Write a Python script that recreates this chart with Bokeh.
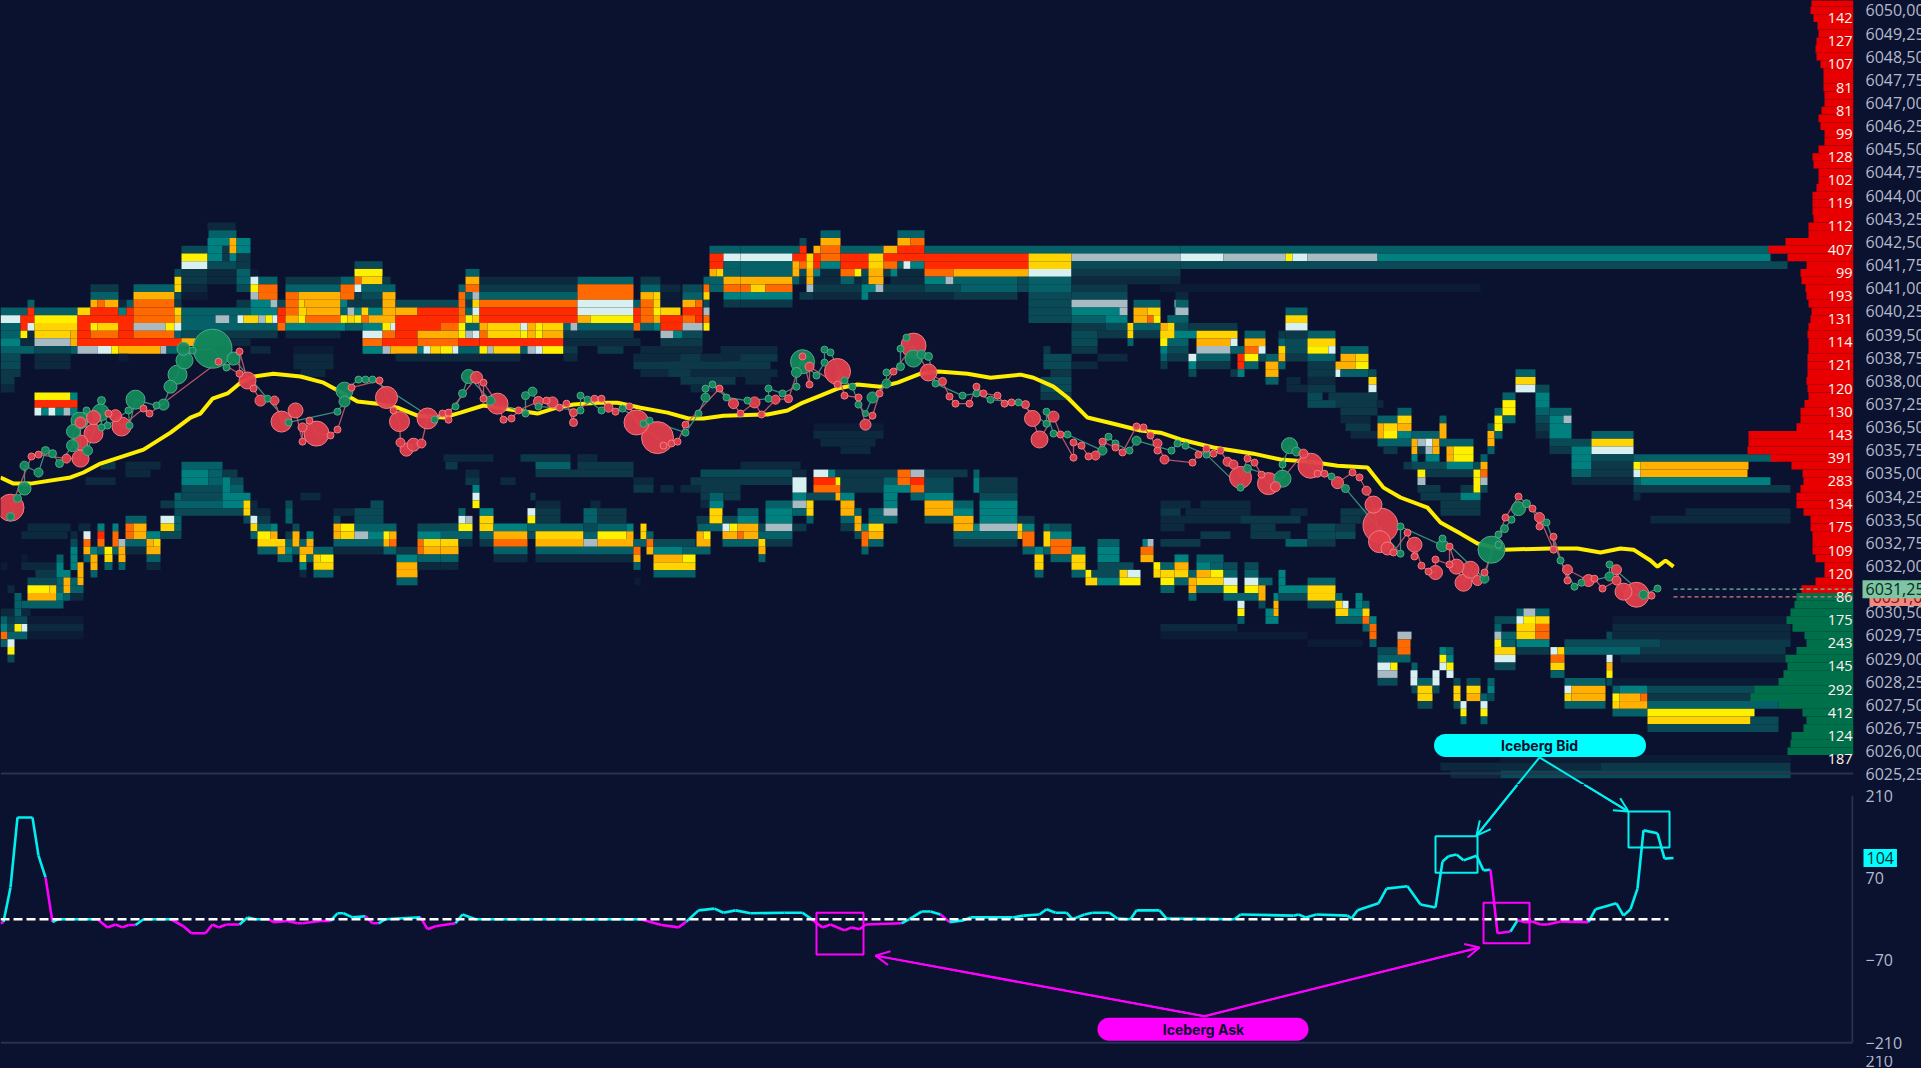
from bokeh.plotting import figure
from bokeh.layouts import column
from bokeh.models import Range1d, FixedTicker, CustomJSTickFormatter, Label, Arrow, OpenHead
from bokeh.core.properties import value
from bokeh.embed import file_html
from bokeh.resources import INLINE

BG = "#0b1230"
CYAN = "#00f0f0"
MAGENTA = "#ff00ff"
LEVELS = ["#0c1c36", "#0c293e", "#0c3848", "#0a4a56", "#056068", "#018080", "#a8bac2",
          "#d8f0f0", "#fff000", "#ffd400", "#ffb000", "#ff6a00", "#ff2a00"]

# heatmap: (price, [(time_from, time_to, level), ...])
heat_faint = [
 (6039.0,[(720,777,2),(293,333,1)]),
 (6038.75,[(720,777,3),(293,333,2),(633,740,2)]),
 (6038.5,[(730,770,3),(293,333,2),(633,740,3)]),
 (6038.25,[(740,777,2),(300,325,2),(640,740,2)]),
 (6038.0,[(745,770,2),(1040,1071,4),(680,735,3)]),
 (6037.75,[(1040,1071,4),(690,720,2)]),
 (6037.5,[(1333,1377,3),(1040,1071,3)]),
 (6037.25,[(1333,1377,3)]),
 (6037.0,[(1340,1377,3)]),
 (6036.75,[(1340,1370,2)]),
 (6036.5,[(813,883,1),(1345,1370,3)]),
 (6036.25,[(813,883,2),(1350,1377,2)]),
 (6036.0,[(820,875,2)]),
 (6035.75,[(840,870,2)]),
 (6034.0,[(1200,1250,2)]),
 (6033.75,[(1185,1250,2),(1340,1375,3)]),
 (6033.5,[(1160,1250,2),(1240,1300,3),(1340,1370,3)]),
]
heat_upper_left = [
 (6043.0,[(207,235,2)]),
 (6042.75,[(208,236,5)]),
 (6042.5,[(207,229,6),(229,236,11),(236,250,6)]),
 (6042.25,[(181,207,4),(207,222,6),(222,229,3),(229,236,11),(236,250,6)]),
 (6042.0,[(181,207,9),(207,222,6),(222,229,3),(229,236,6),(236,250,3)]),
 (6041.75,[(181,207,8),(207,236,4),(236,250,3),(354,382,4)]),
 (6041.5,[(174,181,4),(181,207,3),(207,236,2),(236,250,5),(250,258,1),(354,382,9),(465,479,5)]),
 (6041.25,[(174,181,10),(181,207,3),(207,236,2),(236,250,5),(250,258,8),(258,277,5),(285,340,3),(340,354,5),(354,361,12),(361,382,10),(382,390,3),(465,479,11)]),
 (6041.0,[(90,118,3),(133,174,5),(174,181,10),(181,207,2),(236,250,4),(250,258,9),(258,277,12),(285,340,5),(340,354,12),(354,361,8),(361,395,5),(458,465,5),(465,479,12)]),
 (6040.75,[(90,118,5),(133,174,11),(174,181,4),(181,207,1),(250,258,7),(258,277,12),(285,298,12),(298,340,11),(340,354,12),(354,361,3),(361,382,4),(382,395,11),(458,465,12),(465,472,5),(472,479,7)]),
 (6040.5,[(27,34,5),(90,97,11),(97,104,12),(104,118,11),(118,126,2),(126,133,5),(133,174,12),(174,181,3),(236,250,3),(250,270,6),(270,277,7),(277,285,4),(285,298,12),(298,304,10),(304,340,11),(340,347,6),(347,382,3),(382,395,11),(395,458,4),(458,465,12),(465,472,3),(472,479,10)]),
 (6040.25,[(0,27,5),(27,34,13),(34,77,5),(77,90,10),(90,118,13),(118,126,6),(126,133,13),(133,174,12),(174,181,10),(181,250,5),(250,277,6),(277,285,13),(285,298,12),(298,306,10),(306,340,11),(340,347,5),(347,354,7),(354,361,6),(361,368,10),(368,382,6),(382,395,11),(395,417,11),(417,458,13),(458,465,12),(465,472,5),(472,479,8)]),
 (6040.0,[(0,20,8),(20,34,13),(34,77,9),(77,133,13),(133,174,12),(174,181,11),(181,215,5),(215,229,7),(229,237,5),(237,243,8),(243,258,10),(258,265,7),(265,272,9),(272,277,8),(277,285,13),(285,298,11),(298,305,9),(305,340,12),(340,347,9),(347,354,10),(354,361,9),(361,368,12),(368,395,11),(395,458,13),(458,465,12),(465,472,9),(472,479,10)]),
 (6039.75,[(0,20,5),(20,27,13),(27,34,8),(34,77,10),(77,90,13),(90,97,9),(97,118,10),(118,133,13),(133,165,7),(165,174,9),(174,181,8),(181,277,5),(277,285,12),(285,345,6),(345,362,5),(362,382,6),(382,390,9),(390,395,8),(395,440,13),(440,458,12),(458,465,9),(465,479,5)]),
 (6039.5,[(0,20,5),(20,27,9),(27,34,2),(34,70,10),(70,77,11),(77,90,13),(90,118,12),(118,133,13),(133,174,12),(174,181,5),(181,217,4),(217,277,3),(285,340,2),(362,382,8),(382,395,12),(395,417,13),(417,458,11),(458,465,9),(465,472,7),(472,479,8)]),
 (6039.25,[(0,20,6),(20,34,2),(34,70,7),(70,77,11),(77,181,13),(181,195,11),(195,250,2),(362,382,12),(382,417,13),(417,458,12),(458,479,13)]),
 (6039.0,[(0,34,5),(34,70,4),(70,77,5),(77,97,7),(97,111,8),(111,118,9),(118,160,11),(160,166,7),(166,181,5),(250,270,2),(362,382,6),(382,390,7),(390,417,11),(417,423,6),(423,430,8),(430,440,10),(440,452,9),(452,458,8),(458,479,5)]),
 (6038.75,[(0,20,4),(34,70,2),(118,128,1),(395,440,2),(440,479,2)]),
 (6038.5,[(0,20,4),(34,70,2),(300,320,2)]),
 (6038.25,[(0,20,3)]),
 (6038.0,[(0,14,3)]),
 (6037.75,[(0,14,2)]),
 (6037.5,[(34,70,9),(70,77,6)]),
 (6037.25,[(34,77,13)]),
 (6037.0,[(34,41,8),(41,48,6),(48,55,8),(55,63,6),(63,70,7),(70,77,6)]),
]
heat_upper_mid = [
 (6042.25,[(709,740,5)]),
 (6042.0,[(709,723,13),(723,740,8)]),
 (6041.75,[(709,723,13),(723,740,5)]),
 (6041.5,[(709,716,11),(716,723,10),(723,740,5)]),
 (6041.25,[(479,577,2),(577,633,5),(640,660,3),(703,723,5),(723,740,11)]),
 (6041.0,[(479,577,3),(577,633,12),(640,660,5),(660,680,2),(682,702,4),(703,709,12),(709,723,5),(723,740,12)]),
 (6040.75,[(479,577,5),(577,633,12),(640,653,11),(653,660,10),(660,680,1),(682,702,5),(703,709,10),(723,740,6)]),
 (6040.5,[(479,577,12),(577,633,8),(633,640,5),(640,653,12),(653,660,10),(660,680,1),(682,695,11),(695,702,12),(703,709,4),(723,740,3)]),
 (6040.25,[(479,577,13),(577,633,8),(633,640,13),(640,653,12),(653,660,9),(660,680,10),(682,702,13),(703,709,7)]),
 (6040.0,[(479,577,13),(577,590,11),(590,633,9),(633,640,13),(640,653,12),(653,660,11),(660,682,13),(682,695,12),(695,702,13),(703,709,12)]),
 (6039.75,[(479,487,11),(487,520,10),(520,527,8),(527,535,11),(535,542,9),(542,563,10),(563,570,5),(570,577,7),(577,633,5),(633,640,12),(640,653,5),(653,660,6),(660,682,13),(682,702,7),(703,709,9)]),
 (6039.5,[(479,487,12),(487,520,10),(520,527,9),(527,535,11),(535,542,9),(542,563,11),(563,633,3),(660,673,7),(673,682,6),(682,702,4)]),
 (6039.25,[(479,563,13),(563,640,2),(660,702,3)]),
 (6039.0,[(479,487,9),(487,493,7),(493,520,10),(520,527,5),(527,535,7),(535,542,8),(542,563,9),(563,577,3),(597,623,3),(640,702,2)]),
 (6038.75,[(479,520,2),(563,577,2),(633,660,2),(680,700,3)]),
 (6038.5,[(668,703,3)]),
 (6038.25,[(668,690,3)]),
 (6042.75,[(820,840,5),(897,924,5)]),
 (6042.5,[(799,806,4),(820,840,11),(897,910,11),(910,924,12)]),
 (6042.25,[(740,799,5),(799,806,13),(813,820,11),(820,840,12),(840,883,5),(883,897,11),(897,924,13),(924,1180,5)]),
 (6042.0,[(740,792,8),(792,806,13),(806,813,10),(813,820,13),(820,840,12),(840,868,13),(868,883,10),(883,1028,13),(1028,1071,10),(1071,1180,7)]),
 (6041.75,[(740,792,5),(792,799,11),(799,806,12),(806,813,10),(813,820,13),(820,840,6),(840,868,13),(868,883,10),(883,897,12),(897,903,5),(903,910,8),(910,924,6),(924,1028,13),(1028,1071,10),(1071,1180,4)]),
 (6041.5,[(740,792,5),(792,799,11),(799,806,4),(806,813,11),(813,820,6),(820,840,2),(840,854,12),(854,861,9),(861,868,4),(868,883,11),(883,890,3),(890,897,6),(897,924,2),(924,953,12),(953,1028,11),(1028,1071,8),(1071,1180,3)]),
 (6041.25,[(740,792,11),(792,799,5),(799,806,2),(806,813,11),(813,840,2),(840,854,5),(854,861,2),(861,868,3),(868,883,11),(890,924,2),(924,945,6),(945,953,7),(953,1017,5),(1017,1028,4),(1028,1071,5),(1071,1180,2)]),
 (6041.0,[(740,750,12),(750,765,10),(765,792,12),(806,813,7),(813,861,3),(861,875,6),(875,883,7),(883,924,3),(924,960,4),(960,1017,5),(1017,1028,4),(1028,1071,5),(1071,1127,3)]),
 (6040.75,[(740,792,6),(799,813,3),(813,861,2),(861,868,6),(868,953,2),(953,1017,3),(1028,1071,4),(1071,1127,4)]),
 (6040.5,[(740,792,3),(1028,1071,4),(1071,1127,7),(1133,1160,5),(1174,1180,7)]),
 (6040.25,[(1028,1071,4),(1071,1119,6),(1119,1127,7),(1133,1147,11),(1147,1160,10),(1174,1180,5)]),
 (6040.0,[(1028,1071,4),(1071,1105,5),(1105,1127,6),(1133,1147,11),(1147,1153,12),(1153,1160,9),(1167,1180,4)]),
 (6039.75,[(1071,1105,3),(1105,1127,4),(1127,1133,10),(1133,1160,5),(1160,1167,4),(1167,1174,10),(1174,1180,4)]),
 (6039.5,[(1071,1097,4),(1097,1127,3),(1127,1133,10),(1133,1160,3),(1160,1167,9),(1167,1174,10),(1174,1180,3)]),
 (6039.25,[(1071,1097,4),(1127,1133,5),(1160,1167,9),(1167,1180,5)]),
 (6039.0,[(1043,1050,3),(1071,1097,3),(1160,1167,4)]),
 (6038.75,[(1043,1071,4),(1097,1127,2)]),
 (6038.5,[(1043,1071,4),(1071,1097,2)]),
 (6038.25,[(1050,1071,3)]),
]
heat_upper_right = [
 (6042.25,[(1180,1786,5)]),
 (6042.0,[(1180,1223,8),(1223,1285,7),(1285,1292,9),(1292,1307,8),(1307,1377,7),(1377,1770,6)]),
 (6041.75,[(1180,1787,4)]),
 (6041.0,[(1160,1480,1)]),
 (6040.75,[(1175,1188,2)]),
 (6040.5,[(1175,1188,5)]),
 (6040.25,[(1175,1188,7),(1285,1307,5)]),
 (6040.0,[(1167,1188,5),(1285,1307,10)]),
 (6039.75,[(1160,1167,11),(1167,1174,10),(1174,1188,4),(1188,1237,3),(1285,1307,8)]),
 (6039.5,[(1160,1174,10),(1174,1196,6),(1196,1237,10),(1244,1265,5),(1278,1285,3),(1285,1307,3),(1307,1335,5)]),
 (6039.25,[(1160,1167,9),(1167,1188,5),(1196,1230,11),(1230,1237,8),(1244,1265,11),(1278,1285,5),(1285,1307,4),(1307,1335,10)]),
 (6039.0,[(1160,1167,6),(1167,1188,4),(1196,1230,7),(1230,1244,5),(1244,1258,12),(1258,1265,8),(1278,1285,10),(1285,1307,4),(1307,1328,9),(1328,1335,8),(1340,1368,5)]),
 (6038.75,[(1160,1167,5),(1167,1188,3),(1188,1196,8),(1196,1230,5),(1237,1244,13),(1244,1258,9),(1258,1265,4),(1265,1278,5),(1278,1285,11),(1285,1307,3),(1307,1335,5),(1340,1355,11),(1355,1368,10)]),
 (6038.5,[(1160,1167,3),(1188,1196,6),(1196,1230,3),(1237,1244,13),(1244,1258,5),(1265,1278,11),(1278,1285,5),(1307,1335,3),(1335,1355,11),(1355,1368,9)]),
 (6038.25,[(1188,1196,4),(1230,1237,3),(1237,1244,6),(1265,1278,11),(1307,1335,3),(1335,1340,8),(1340,1368,5),(1368,1376,4),(1515,1535,5)]),
 (6038.0,[(1265,1278,5),(1286,1300,2),(1307,1335,2),(1368,1376,10),(1515,1535,10)]),
 (6037.75,[(1286,1307,2),(1307,1335,3),(1368,1376,8),(1515,1535,8),(1535,1549,4)]),
 (6037.5,[(1307,1322,4),(1328,1335,3),(1368,1376,3),(1502,1515,5),(1535,1549,6)]),
 (6037.25,[(1307,1335,4),(1376,1383,2),(1502,1515,9),(1535,1549,6)]),
 (6037.0,[(1397,1411,5),(1494,1502,5),(1502,1515,9),(1535,1549,5),(1549,1571,5)]),
 (6036.75,[(1377,1397,5),(1397,1411,10),(1439,1446,5),(1494,1502,9),(1502,1515,5),(1535,1549,4),(1549,1563,6),(1563,1571,7)]),
 (6036.5,[(1377,1383,11),(1383,1397,10),(1397,1411,11),(1439,1446,11),(1487,1494,4),(1494,1502,9),(1535,1549,3),(1549,1571,6)]),
 (6036.25,[(1377,1383,11),(1383,1397,9),(1397,1411,6),(1411,1439,5),(1439,1446,11),(1487,1494,11),(1494,1502,5),(1535,1549,2),(1549,1571,6),(1591,1633,5)]),
 (6036.0,[(1377,1411,5),(1411,1417,11),(1417,1425,7),(1425,1432,8),(1432,1439,11),(1439,1473,5),(1487,1494,11),(1549,1591,4),(1591,1633,10)]),
 (6035.75,[(1383,1397,3),(1411,1417,11),(1417,1425,3),(1425,1432,7),(1432,1439,11),(1446,1453,11),(1453,1473,9),(1487,1494,5),(1549,1571,3),(1571,1591,6),(1591,1633,8)]),
 (6035.5,[(1411,1417,6),(1425,1439,6),(1446,1453,11),(1453,1473,9),(1480,1487,5),(1571,1591,6),(1591,1633,4),(1633,1777,5)]),
 (6035.25,[(1403,1411,3),(1411,1446,4),(1446,1473,6),(1473,1480,4),(1480,1487,11),(1571,1591,6),(1591,1633,3),(1633,1640,9),(1640,1748,11)]),
 (6035.0,[(1417,1425,9),(1425,1473,3),(1473,1480,9),(1480,1487,12),(1571,1591,5),(1591,1633,3),(1633,1640,8),(1640,1747,11)]),
 (6034.75,[(1417,1425,7),(1473,1480,9),(1480,1487,7),(1571,1633,2),(1633,1640,5),(1640,1770,6)]),
 (6034.5,[(1417,1440,3),(1460,1473,3),(1473,1480,9),(1480,1487,4),(1633,1790,3)]),
 (6034.25,[(1420,1460,3),(1460,1480,6),(1633,1640,2)]),
 (6034.0,[(1160,1190,2),(1440,1480,3)]),
 (6033.75,[(1160,1180,3),(1290,1307,2),(1440,1480,3),(1685,1790,2)]),
 (6033.5,[(1360,1370,2),(1650,1790,2)]),
 (6033.25,[(1160,1184,2),(1250,1275,3),(1307,1335,4),(1335,1355,3)]),
]
heat_lower_left = [
 (6035.25,[(181,222,5),(100,115,3),(125,160,2)]),
 (6035.0,[(181,208,6),(208,222,5),(222,237,3),(125,150,2)]),
 (6034.75,[(181,208,6),(208,222,5),(222,230,6),(230,243,4),(85,115,2)]),
 (6034.5,[(181,222,4),(222,230,6),(230,243,5)]),
 (6034.25,[(174,181,5),(181,222,4),(222,250,6),(300,320,2)]),
 (6034.0,[(160,174,3),(174,222,5),(222,243,6),(243,250,10),(250,257,2),(285,292,4),(370,383,4)]),
 (6033.75,[(174,243,4),(243,250,10),(250,270,2),(285,292,5),(333,354,2),(354,383,4)]),
 (6033.5,[(125,146,5),(160,174,8),(174,181,5),(243,250,4),(250,257,8),(257,270,3),(285,292,5),(333,340,4),(354,383,4)]),
 (6033.25,[(27,70,2),(78,90,2),(97,104,6),(112,118,6),(125,133,12),(133,146,11),(160,174,10),(174,181,5),(250,257,10),(257,270,5),(270,277,6),(292,299,4),(333,340,11),(340,354,9),(354,396,5),(417,458,4)]),
 (6033.0,[(21,67,2),(70,77,2),(83,90,8),(97,104,13),(112,118,12),(125,133,12),(133,146,11),(146,160,6),(160,181,4),(250,257,5),(257,270,9),(270,277,11),(285,292,3),(292,299,11),(306,313,6),(333,340,11),(340,354,10),(354,368,7),(368,383,6),(383,389,9),(389,396,11),(417,458,6)]),
 (6032.75,[(70,77,4),(83,90,12),(97,104,12),(112,118,12),(118,125,7),(125,146,5),(146,153,11),(153,160,10),(257,285,10),(285,292,5),(292,299,11),(299,306,5),(306,313,11),(333,383,5),(383,389,11),(389,396,12),(417,423,12),(423,440,10)]),
 (6032.5,[(70,77,6),(83,90,11),(90,97,6),(97,104,5),(104,112,9),(112,118,5),(118,125,11),(125,146,2),(146,160,11),(257,277,5),(277,285,11),(285,292,6),(292,299,5),(299,313,11),(313,333,5),(333,383,2),(383,396,5),(396,417,3),(417,423,12),(423,440,11)]),
 (6032.25,[(21,27,1),(56,63,5),(70,77,6),(83,90,5),(90,97,11),(104,112,10),(118,125,11),(146,160,5),(277,292,5),(299,306,10),(306,313,5),(313,320,10),(320,333,9),(396,417,6),(417,440,5)]),
 (6032.0,[(0,7,1),(21,56,2),(56,63,6),(70,77,6),(77,83,11),(90,97,11),(104,112,5),(118,125,5),(146,160,2),(299,306,6),(313,333,10),(396,417,11),(417,440,2)]),
 (6031.75,[(35,56,3),(56,70,6),(77,83,11),(90,97,5),(299,306,2),(313,333,5),(396,417,11)]),
 (6031.5,[(27,56,4),(56,63,5),(63,70,11),(70,77,5),(77,83,11),(396,417,5)]),
 (6031.25,[(7,14,2),(27,49,9),(49,56,10),(56,63,5),(63,70,11),(70,83,5)]),
 (6031.0,[(14,21,5),(27,56,11),(56,63,6),(63,70,5),(70,83,2)]),
 (6030.75,[(14,21,5),(21,63,5)]),
 (6030.5,[(0,14,2),(14,21,5),(21,30,2)]),
 (6030.25,[(0,7,5),(7,14,3),(14,27,4),(27,83,1)]),
 (6030.0,[(0,7,6),(7,14,4),(14,21,9),(21,27,8),(27,83,2)]),
 (6029.75,[(0,7,12),(7,27,5),(27,83,1)]),
 (6029.5,[(0,7,5),(7,14,8)]),
 (6029.25,[(7,14,9)]),
 (6029.0,[(7,14,4)]),
]
heat_lower_mid = [
 (6035.5,[(443,493,2),(520,570,3),(577,597,2)]),
 (6035.25,[(445,457,3),(535,570,5),(577,633,3),(740,800,2)]),
 (6035.0,[(465,479,2),(535,633,3),(700,792,4),(792,806,2),(813,828,8),(828,835,6),(835,897,3),(897,910,12),(910,924,7),(924,967,3),(973,979,5)]),
 (6034.75,[(465,479,3),(500,515,2),(633,653,2),(690,792,3),(792,806,8),(813,835,13),(835,840,9),(840,883,3),(883,897,5),(897,910,12),(910,924,13),(924,953,4),(973,979,6),(979,1017,3)]),
 (6034.5,[(472,479,6),(633,653,3),(660,673,2),(680,700,2),(700,740,3),(792,806,8),(813,840,12),(840,883,3),(883,910,6),(910,924,12),(924,953,4),(973,979,6),(979,1017,3)]),
 (6034.25,[(472,479,8),(530,535,3),(700,709,3),(709,723,5),(723,740,3),(792,806,6),(806,835,4),(835,840,11),(840,854,6),(883,897,6),(910,924,5),(924,953,6),(979,1017,4)]),
 (6034.0,[(472,479,9),(535,560,2),(590,600,2),(700,709,2),(709,723,6),(765,792,5),(792,806,7),(806,813,10),(840,854,11),(883,897,6),(924,953,11),(953,973,5),(979,1017,6)]),
 (6033.75,[(458,465,5),(479,493,6),(527,535,8),(535,560,3),(583,597,5),(597,626,3),(709,722,10),(737,758,5),(765,792,6),(792,806,5),(806,813,10),(840,854,11),(854,861,5),(868,883,5),(883,897,7),(924,953,11),(953,973,6),(979,1017,6)]),
 (6033.5,[(458,465,8),(465,472,7),(479,493,10),(527,535,9),(535,560,3),(583,597,5),(597,626,3),(696,709,3),(709,722,10),(722,737,4),(737,758,6),(765,792,6),(806,813,5),(840,854,5),(854,861,11),(868,897,5),(924,953,4),(953,973,11),(979,1017,6),(1017,1034,3)]),
 (6033.25,[(440,458,4),(458,472,9),(479,493,10),(493,527,6),(527,583,5),(583,597,4),(597,626,5),(626,633,6),(640,646,10),(697,722,5),(722,729,8),(729,737,9),(737,758,11),(758,765,4),(765,792,7),(792,806,3),(840,854,3),(854,861,11),(861,868,6),(868,883,10),(953,973,11),(973,979,6),(979,1017,7),(1017,1022,10),(1022,1034,6),(1043,1050,5),(1050,1071,4)]),
 (6033.0,[(440,472,5),(479,493,5),(493,527,11),(527,535,4),(535,583,10),(583,597,5),(597,626,9),(626,633,11),(640,646,10),(646,653,5),(696,703,11),(703,710,9),(722,737,11),(737,743,12),(743,758,11),(758,792,5),(854,861,4),(861,868,12),(868,883,11),(953,1017,5),(1017,1022,11),(1022,1034,12),(1043,1050,10),(1050,1071,6)]),
 (6032.75,[(440,458,10),(458,472,2),(479,493,3),(493,527,12),(535,583,11),(583,597,7),(597,633,11),(633,646,5),(646,653,12),(653,695,4),(696,710,11),(722,758,5),(758,765,10),(765,792,3),(861,868,12),(868,883,5),(953,1017,3),(1022,1034,12),(1043,1050,10),(1050,1071,12),(1097,1119,5),(1142,1147,6),(1147,1153,7)]),
 (6032.5,[(440,458,11),(493,527,5),(535,633,5),(633,640,12),(646,653,11),(653,682,6),(682,710,5),(758,765,11),(861,868,5),(1022,1034,5),(1034,1043,6),(1043,1050,5),(1050,1071,12),(1071,1085,6),(1097,1119,6),(1140,1153,12)]),
 (6032.25,[(440,458,5),(493,527,2),(535,633,2),(633,640,11),(653,682,11),(682,695,9),(758,765,5),(1034,1043,10),(1050,1071,5),(1071,1085,10),(1097,1119,6),(1140,1153,11)]),
 (6032.0,[(440,458,2),(633,640,5),(653,695,10),(1034,1043,10),(1071,1085,10),(1097,1133,4),(1153,1160,9),(1160,1174,5)]),
 (6031.75,[(653,695,5),(1034,1043,5),(1071,1085,5),(1085,1091,9),(1091,1119,4),(1119,1127,10),(1127,1140,8),(1153,1160,10),(1160,1174,10)]),
 (6031.5,[(634,640,1),(1085,1097,10),(1097,1119,6),(1119,1140,9),(1160,1174,9)]),
]
heat_lower_right = [
 (6033.0,[(1200,1230,3),(1250,1290,3),(1307,1335,4),(1335,1355,4)]),
 (6032.75,[(1160,1200,3),(1285,1307,5),(1307,1335,3)]),
 (6032.25,[(1174,1188,6),(1196,1223,5)]),
 (6032.0,[(1174,1188,11),(1196,1210,6),(1210,1223,5),(1223,1237,4),(1244,1258,4)]),
 (6031.75,[(1174,1188,10),(1188,1196,5),(1196,1210,11),(1210,1223,9),(1223,1237,5),(1244,1258,5),(1278,1285,6)]),
 (6031.5,[(1174,1188,5),(1188,1196,11),(1196,1223,10),(1223,1237,8),(1244,1258,8),(1258,1272,5),(1278,1285,6),(1307,1335,5)]),
 (6031.25,[(1160,1174,5),(1188,1196,11),(1196,1223,5),(1223,1237,9),(1244,1258,9),(1258,1265,11),(1278,1307,6),(1307,1335,10)]),
 (6031.0,[(1188,1196,5),(1223,1258,5),(1258,1265,11),(1273,1278,6),(1278,1307,4),(1307,1335,10),(1335,1342,5),(1355,1362,6)]),
 (6030.75,[(1237,1244,8),(1258,1265,4),(1273,1278,11),(1307,1335,4),(1335,1342,10),(1342,1348,8),(1355,1362,6),(1362,1369,5)]),
 (6030.5,[(1237,1244,9),(1265,1273,6),(1273,1278,11),(1335,1348,10),(1348,1362,6),(1362,1369,10),(1516,1523,5),(1523,1535,7),(1535,1549,5)]),
 (6030.25,[(1237,1244,5),(1265,1278,6),(1335,1362,5),(1362,1369,12),(1369,1376,6),(1494,1516,4),(1516,1523,8),(1523,1535,9),(1535,1549,10),(1612,1790,1)]),
 (6030.0,[(1160,1237,2),(1362,1369,5),(1369,1376,12),(1494,1501,5),(1516,1535,10),(1535,1549,12),(1612,1790,2)]),
 (6029.75,[(1160,1307,1),(1369,1376,12),(1397,1411,7),(1494,1501,7),(1501,1516,5),(1516,1535,10),(1535,1549,12),(1606,1612,4),(1612,1790,2)]),
 (6029.5,[(1307,1362,1),(1369,1376,5),(1397,1410,12),(1494,1501,9),(1501,1515,5),(1516,1549,6),(1564,1660,4),(1660,1790,3)]),
 (6029.25,[(1377,1397,4),(1397,1410,12),(1439,1446,6),(1446,1453,5),(1494,1515,10),(1516,1549,3),(1550,1557,8),(1557,1564,10),(1564,1640,5),(1640,1785,3)]),
 (6029.0,[(1377,1410,5),(1439,1446,9),(1446,1453,6),(1494,1515,8),(1550,1564,12),(1606,1612,8),(1620,1790,2)]),
 (6028.75,[(1377,1390,8),(1390,1397,9),(1411,1417,5),(1439,1446,8),(1446,1453,9),(1494,1515,4),(1550,1564,10),(1606,1612,11)]),
 (6028.5,[(1377,1397,7),(1410,1417,8),(1432,1439,8),(1446,1453,8),(1550,1564,5),(1606,1612,9)]),
 (6028.25,[(1377,1397,4),(1410,1417,8),(1417,1432,5),(1432,1439,8),(1453,1460,4),(1466,1480,4),(1487,1494,5),(1564,1605,5),(1606,1612,4),(1612,1790,1)]),
 (6028.0,[(1411,1417,4),(1417,1432,10),(1432,1439,4),(1453,1460,10),(1466,1480,10),(1487,1494,6),(1564,1571,8),(1571,1605,11),(1612,1619,5),(1619,1647,6),(1647,1783,4)]),
 (6027.75,[(1417,1432,10),(1453,1460,10),(1466,1480,11),(1480,1487,5),(1487,1494,4),(1564,1571,10),(1571,1605,11),(1612,1619,9),(1619,1640,11),(1640,1647,12),(1647,1787,3)]),
 (6027.5,[(1417,1432,4),(1453,1460,4),(1460,1466,8),(1480,1487,8),(1564,1605,5),(1612,1619,10),(1619,1647,11),(1647,1778,5)]),
 (6027.25,[(1460,1466,9),(1480,1487,9),(1612,1647,5),(1647,1754,9)]),
 (6027.0,[(1460,1466,5),(1480,1487,5),(1647,1750,10),(1750,1778,4)]),
 (6026.75,[(1647,1778,4)]),
 (6025.75,[(1500,1790,1)]),
 (6025.5,[(1440,1600,2),(1600,1790,3)]),
 (6025.25,[(1450,1500,2),(1500,1790,4)]),
]
heat_rows = heat_faint + heat_upper_left + heat_upper_mid + heat_upper_right + heat_lower_left + heat_lower_mid + heat_lower_right

# volume profile, from price 6050.25 downward, one value per 0,25
profile_top_price = 6050.25
profile_volume = [42,43,40,36,35,37,38,37,33,30,30,30,29,29,32,35,33,29,29,35,41,40,35,35,37,41,41,41,40,45,45,68,85,66,47,53,52,48,47,45,42,43,45,46,45,45,46,46,46,47,46,45,49,53,53,57,105,105,106,83,62,51,50,53,57,57,50,43,43,41,41,41,38,29,
                  29,38,52,57,59,63,67,61,49,47,57,68,66,70,75,99,103,75,51,47,50,62,63,66]
profile_split_price = 6031.25
profile_label_prices = [6049.75 - 0.75 * i for i in range(33)]
profile_labels = ["142","127","107","81","81","99","128","102","119","112","407","99","193","131","114","121","120",
                  "130","143","391","283","134","175","109","120","86","175","243","145","292","412","124","187"]

# moving average
ma_time = [0,13,30,70,83,100,143,170,190,200,212,227,240,253,273,300,323,343,357,377,397,417,443,460,483,497,517,537,553,573,597,617,640,667,688,703,723,767,787,800,820,837,857,880,897,920,938,967,990,1020,1033,1053,1067,1087,1113,1140,1160,1180,1213,1253,1280,1310,1337,1367,1383,1400,1427,1440,1460,1477,1503,1550,1577,1600,1620,1633,1650,1657,1665,1673]
ma_price = [6034.87,6034.67,6034.67,6034.87,6035.03,6035.32,6035.77,6036.32,6036.81,6036.94,6037.42,6037.59,6037.94,6038.14,6038.23,6038.14,6037.94,6037.59,6037.33,6037.26,6037.13,6036.87,6036.81,6036.97,6037.2,6037.13,6037.04,6036.94,6037.1,6037.23,6037.29,6037.29,6037.13,6036.97,6036.78,6036.78,6036.87,6036.91,6037.04,6037.26,6037.52,6037.75,6037.88,6037.81,6037.94,6038.23,6038.3,6038.23,6038.1,6038.2,6038.1,6037.81,6037.46,6036.81,6036.61,6036.39,6036.32,6036.1,6035.84,6035.64,6035.45,6035.38,6035.25,6035.19,6034.54,6034.22,6033.89,6033.41,6033.05,6032.73,6032.53,6032.57,6032.57,6032.44,6032.57,6032.53,6032.18,6031.98,6032.18,6031.98]

# traded volume: time, price offset from 6000, size
green_trades = [(10,33.6,6),(17,34.19,6),(24,34.51,11),(38,35.03,7),(24,35.25,7),(45,35.74,6),(52,35.64,6),(59,35.32,6),(87,35.74,8),(72,35.9,10),(73,36.36,12),(79,36.71,15),(100,36.97,15),(101,37.36,6),(86,37.04,5),(107,36.55,5),(101,36.49,5),(129,36.55,5),(128,37.04,5),(135,37.39,17),(156,37.2,5),(163,37.23,9),(170,37.81,11),(177,38.2,17),(184,38.66,15),(183,39.04,11),(192,38.98,5),(212,39.04,37),(226,38.43,5),(233,38.72,11),(267,37.42,5),(288,36.65,5),(337,37.0,5),(344,37.33,9),(344,37.68,15),(358,38.04,5),(365,38.04,5),(372,38.04,5),(434,36.74,5),(455,37.17,5),(462,37.59,6),(468,38.14,12),(490,37.36,7),(525,36.94,5),(525,37.52,6),(532,37.65,7),(538,37.17,5),(580,37.52,5),(580,37.04,5),(587,37.39,5),(601,37.04,5),(622,37.1,5),(643,36.61,5),(649,36.71,5),(685,36.32,5),(698,36.94,5),(705,37.46,7),(705,37.75,5),(712,37.88,5),(726,37.46,5),(747,37.36,5),(768,37.75,5),(768,37.42,5),(782,37.59,5),(796,37.81,5),(796,38.27,8),(802,38.62,22),(816,38.17,5),(824,39.01,5),(824,38.59,5),(830,38.92,5),(844,38.01,5),(852,37.81,5),(858,37.23,5),(865,36.94,4),(872,37.46,9),(886,37.91,7),(886,38.27,5),(900,38.46,6),(900,39.04,5),(906,39.4,5),(913,38.72,15),(921,38.85,7),(928,38.79,6),(935,37.91,5),(962,37.52,5),(976,37.59,5),(990,37.39,5),(1018,37.3,5),(1046,37.0,5),(1046,36.61,5),(1053,36.29,5),(1067,36.26,5),(1102,35.74,7),(1108,36.19,5),(1115,35.97,5),(1129,35.74,5),(1136,36.06,7),(1171,35.74,5),(1177,35.97,5),(1185,35.9,5),(1206,35.61,5),(1240,34.54,5),(1247,35.16,6),(1282,34.83,15),(1282,35.29,5),(1289,35.9,14),(1296,35.71,7),(1331,34.9,5),(1345,34.51,6),(1400,33.28,5),(1400,32.4,5),(1442,32.89,5),(1442,32.66,10),(1484,31.59,7),(1491,32.53,25),(1498,32.69,5),(1498,33.02,5),(1504,33.21,6),(1511,33.5,5),(1518,33.86,12),(1526,34.02,6),(1546,33.41,5),(1560,32.18,5),(1574,31.33,5),(1581,31.46,5),(1609,31.66,7),(1609,32.05,5),(1643,31.07,7),(1657,31.27,5)]
red_trades = [(10,33.89,25),(31,35.55,5),(38,35.61,5),(66,35.48,7),(80,35.48,15),(80,36.0,13),(93,36.29,17),(80,36.65,9),(93,36.81,12),(108,36.94,5),(115,36.87,10),(121,36.52,17),(143,37.1,5),(149,36.94,5),(218,38.62,5),(239,38.95,5),(239,38.23,5),(247,38.01,15),(253,37.75,5),(260,37.36,9),(274,37.36,7),(281,36.68,19),(295,37.04,13),(302,36.49,7),(309,36.71,5),(316,36.29,23),(302,36.03,5),(330,36.23,5),(337,36.42,5),(351,37.78,5),(379,38.01,5),(386,37.46,20),(393,37.04,5),(399,36.68,18),(400,36.0,7),(406,35.77,11),(413,35.93,11),(421,35.97,7),(427,36.78,19),(442,36.94,5),(448,36.97,5),(448,36.74,5),(476,38.11,10),(483,37.94,5),(483,37.42,5),(497,37.26,19),(503,36.74,5),(511,36.78,5),(518,37.04,5),(538,37.33,8),(546,37.36,5),(552,37.3,9),(559,37.13,5),(566,37.26,5),(573,36.97,6),(573,36.65,6),(594,37.42,5),(601,37.42,5),(608,37.13,7),(615,37.0,5),(629,37.17,5),(636,36.65,23),(657,36.16,30),(663,35.9,5),(671,35.97,5),(677,36.03,5),(685,36.58,5),(719,37.75,5),(733,37.26,8),(740,36.94,5),(754,37.3,9),(761,36.91,5),(775,37.39,7),(788,37.42,6),(802,38.79,5),(809,38.46,7),(809,37.88,5),(837,38.3,24),(837,37.88,5),(844,37.52,5),(858,37.46,5),(865,36.58,9),(872,36.87,5),(879,37.59,5),(893,38.3,5),(913,39.14,23),(928,38.27,15),(942,37.98,6),(949,37.49,5),(955,37.26,5),(969,37.26,5),(976,37.81,5),(983,37.59,5),(997,37.52,5),(1004,37.26,5),(1011,37.3,5),(1025,37.23,6),(1032,36.78,14),(1039,36.1,15),(1053,36.84,9),(1060,36.26,5),(1073,36.0,5),(1073,35.51,5),(1081,35.9,5),(1088,35.55,5),(1095,35.58,7),(1102,36.03,5),(1115,35.84,5),(1122,35.68,5),(1136,36.52,5),(1143,36.49,5),(1150,36.23,5),(1157,35.97,7),(1157,35.74,5),(1164,35.45,7),(1192,35.35,5),(1198,35.61,5),(1206,35.8,5),(1213,35.64,5),(1220,35.74,5),(1227,35.38,7),(1233,35.29,7),(1240,34.87,20),(1247,35.48,5),(1254,35.35,5),(1261,34.96,5),(1268,34.67,20),(1275,34.57,8),(1303,35.64,7),(1310,35.25,23),(1317,34.99,5),(1324,34.99,5),(1337,34.7,10),(1352,35.03,5),(1359,34.87,5),(1366,34.44,7),(1373,33.99,15),(1380,33.31,33),(1379,32.79,20),(1387,32.57,11),(1393,32.44,5),(1407,33.08,5),(1414,32.69,13),(1414,32.31,5),(1421,32.01,5),(1428,31.82,5),(1435,31.79,12),(1435,32.21,5),(1449,32.63,5),(1449,32.05,5),(1456,31.98,13),(1463,31.46,15),(1470,31.88,15),(1477,31.53,8),(1484,31.79,5),(1505,33.57,5),(1518,34.25,5),(1532,33.86,5),(1539,33.57,8),(1539,33.28,5),(1553,32.95,5),(1553,32.53,5),(1567,31.88,8),(1567,31.53,5),(1588,31.53,10),(1594,31.59,5),(1602,31.27,5),(1616,31.88,8),(1616,31.53,7),(1623,31.17,15),(1636,31.07,23),(1651,31.04,5)]

last_time = [1673, 1853]
ask_price = 6031.25
bid_price = 6031.0

# indicator
ind_time = [0,3,10,17,32,38,45,52,58,97,107,115,122,128,135,143,170,183,191,205,212,218,226,239,247,255,268,273,287,297,302,320,330,337,343,352,365,372,378,385,420,427,435,455,462,475,500,640,661,678,686,698,714,723,735,750,784,802,811,822,830,844,851,859,865,901,909,921,930,940,949,963,970,1012,1023,1039,1046,1055,1066,1072,1084,1092,1109,1117,1130,1136,1159,1166,1234,1240,1293,1298,1305,1316,1347,1351,1357,1378,1386,1407,1420,1435,1442,1448,1456,1463,1476,1483,1490,1497,1510,1517,1525,1532,1540,1547,1560,1588,1595,1616,1623,1630,1637,1643,1657,1664,1673]
ind_value = [-7,-5,54,173,173,108,71,-5,0,0,-14,-9,-14,-10,-10,0,0,-12,-24,-24,-9,-14,-9,-9,3,0,0,-5,-3,-7,-7,-3,-3,10,10,3,5,-7,-7,0,3,-17,-12,-7,8,0,0,0,-10,-14,-4,15,18,11,15,10,11,11,0,-14,-9,-19,-14,-17,-9,-7,0,13,13,8,-5,-2,3,3,6,8,17,11,11,0,8,11,11,1,0,15,15,1,0,8,6,8,3,8,6,1,15,27,52,56,25,20,98,107,110,100,108,83,84,-24,-21,-2,-5,-4,-9,-9,-4,-5,17,27,6,17,52,151,146,103,104]
zero_time = [0, 1668]
zero_value = [0, 0]
ind_ticks = [210, 70, -70, -210]
ind_last = "104"

price_ticks = [6050 - 0.75 * i for i in range(34)]

def style_axis(ax):
    ax.axis_line_color = None
    ax.major_tick_line_color = None
    ax.minor_tick_line_color = None
    ax.major_tick_out = 0
    ax.major_tick_in = 0
    ax.major_label_standoff = 12
    ax.major_label_text_font = "Open Sans"
    ax.major_label_text_font_size = "16px"
    ax.major_label_text_color = "#b4bacb"

# price panel
FW, H1 = 1853, 784
p1 = figure(width=2062, height=H1, frame_width=FW, frame_height=H1, x_range=Range1d(0, FW),
            y_range=Range1d(6024.923, 6050.32), x_axis_location=None, y_axis_location="right",
            output_backend="svg", toolbar_location=None, background_fill_color=BG, border_fill_color=BG,
            min_border_left=0, min_border_top=0, min_border_bottom=0, min_border_right=0)
p1.outline_line_color = None
p1.grid.visible = False

left, right, top, bottom, colors = [], [], [], [], []
for price, cells in heat_rows:
    for t0, t1, lv in cells:
        left.append(t0); right.append(t1); top.append(price + 0.125); bottom.append(price - 0.125)
        colors.append(LEVELS[lv - 1])
p1.quad(left=left, right=right, top=top, bottom=bottom, fill_color=colors, line_color=None)

# profile
p1.extra_x_ranges["vol"] = Range1d(FW, 0)
prices = [profile_top_price - 0.25 * i for i in range(len(profile_volume))]
pcolors = ["#e80000" if pr >= profile_split_price else "#00704a" for pr in prices]
p1.quad(left=profile_volume, right=[0] * len(prices), top=[pr + 0.125 for pr in prices],
        bottom=[pr - 0.125 for pr in prices], fill_color=pcolors, line_color=None, x_range_name="vol")
p1.text(x=[1] * len(profile_labels), y=profile_label_prices, text=profile_labels, x_range_name="vol",
        text_align="right", text_baseline="middle", text_color="#fff4ee",
        text_font=value("Open Sans"), text_font_size="14.5px")

p1.line(ma_time, ma_price, line_color="#ffee00", line_width=4)

gt = sorted(green_trades); rt = sorted(red_trades)
p1.line([t[0] for t in gt], [6000 + t[1] for t in gt], line_color="#3f9a80", line_width=1.3, line_alpha=0.9)
p1.line([t[0] for t in rt], [6000 + t[1] for t in rt], line_color="#c85a6a", line_width=1.3, line_alpha=0.9)
all_tr = sorted([t + ("g",) for t in green_trades] + [t + ("r",) for t in red_trades], key=lambda t: -t[2])
p1.scatter(x=[t[0] for t in all_tr], y=[6000 + t[1] for t in all_tr], size=[t[2] + 2 for t in all_tr], marker="circle",
           fill_color=["#138a5c" if t[3] == "g" else "#e03e4a" for t in all_tr],
           line_color=["#4fa88a" if t[3] == "g" else "#f07d85" for t in all_tr], line_width=1, fill_alpha=0.95)

p1.line(last_time, [ask_price] * 2, line_color="#6fc0a0", line_width=1.2, line_dash="4 3")
p1.line(last_time, [bid_price] * 2, line_color="#e07a7a", line_width=1.2, line_dash="4 3")
p1.line([0, FW], [6025.28] * 2, line_color="#27324f", line_width=2)

# iceberg bid pill and the start of its arrows
p1.line([1434 + 11, 1645 - 11], [6026.19] * 2, line_color="#00ffff", line_width=23, line_cap="round")
p1.text(x=[1539], y=[6026.19], text=["Iceberg Bid"], text_align="center", text_baseline="middle", text_color="#0a102d",
        text_font=value("Inter"), text_font_style="bold", text_font_size="14px")
p1.segment(x0=[1539, 1539], y0=[6025.8, 6025.8], x1=[1517, 1583.5], y1=[6024.923, 6024.923], line_color=CYAN, line_width=2)

p1.yaxis.ticker = FixedTicker(ticks=price_ticks)
p1.yaxis.formatter = CustomJSTickFormatter(code="return tick.toFixed(2).replace('.', ',')")
style_axis(p1.yaxis)

p1.add_layout(Label(x=-58, x_units="screen", y=bid_price, text="6031,00", text_color="#7a1010", text_font="Open Sans",
                    text_font_size="16px", text_baseline="middle", background_fill_color="#f08a80", padding=3), "right")
p1.add_layout(Label(x=-130, x_units="screen", y=ask_price, text="6031,25", text_color="#0a2a20", text_font="Open Sans",
                    text_font_size="16px", text_baseline="middle", background_fill_color="#7dc5a3", padding=3), "right")

# indicator panel
H2 = 272
p2 = figure(width=1943, height=H2, frame_width=FW, frame_height=H2, x_range=Range1d(0, FW),
            y_range=Range1d(-233.5, 229), x_axis_location=None, y_axis_location="right",
            output_backend="svg", toolbar_location=None, background_fill_color=BG, border_fill_color=BG,
            min_border_left=0, min_border_top=0, min_border_bottom=0, min_border_right=0)
p2.outline_line_color = None
p2.grid.visible = False
seg_colors = [MAGENTA if ind_value[i + 1] <= -3 else CYAN for i in range(len(ind_value) - 1)]
p2.segment(x0=ind_time[:-1], y0=ind_value[:-1], x1=ind_time[1:], y1=ind_value[1:], line_color=seg_colors, line_width=2.6)
p2.line(zero_time, zero_value, line_color="white", line_width=2.5, line_dash="9 4")
p2.line([0, 1852], [-210, -210], line_color="#27324f", line_width=2)
p2.line([1852, 1852], [210, -210], line_color="#27324f", line_width=2)

# box corners: time from/to, value from/to
boxes_cyan = [(1435, 1477, 79, 141), (1628, 1669, 122, 183)]
boxes_magenta = [(816, 863, -60, 11), (1483, 1529, -41, 28)]
for boxes, col in ((boxes_cyan, CYAN), (boxes_magenta, MAGENTA)):
    p2.quad(left=[b[0] for b in boxes], right=[b[1] for b in boxes], bottom=[b[2] for b in boxes], top=[b[3] for b in boxes],
            fill_color=None, line_color=col, line_width=2)

for x0, y0, x1, y1, col in [(1517, 229, 1476, 142, CYAN), (1583.5, 229, 1628, 183, CYAN),
                            (1204, -165, 875, -62, MAGENTA), (1204, -165, 1479, -48, MAGENTA)]:
    p2.segment(x0=[x0], y0=[y0], x1=[x1], y1=[y1], line_color=col, line_width=2)
    p2.add_layout(Arrow(end=OpenHead(size=14, line_color=col, line_width=2), x_start=x0, y_start=y0, x_end=x1, y_end=y1,
                        line_color=col, line_width=2))

p2.line([1097 + 11.5, 1308 - 11.5], [-187, -187], line_color=MAGENTA, line_width=23, line_cap="round")
p2.text(x=[1203], y=[-187], text=["Iceberg Ask"], text_align="center", text_baseline="middle", text_color="#0a102d",
        text_font=value("Inter"), text_font_style="bold", text_font_size="14px")

p2.yaxis.ticker = FixedTicker(ticks=ind_ticks)
p2.add_layout(Label(x=-42, x_units="screen", y=104, text=ind_last, text_color="#0a2a30", text_font="Open Sans",
                    text_font_size="16px", text_baseline="middle", background_fill_color="#00ffff", padding=3), "right")
style_axis(p2.yaxis)

# third pane, cut by the window's edge
p3 = figure(width=1890, height=12, frame_width=FW, frame_height=12, x_range=Range1d(0, FW),
            y_range=Range1d(203.2, 223.6), x_axis_location=None, y_axis_location="right",
            output_backend="svg", toolbar_location=None, background_fill_color=BG, border_fill_color=BG,
            min_border_left=0, min_border_top=0, min_border_bottom=0, min_border_right=0)
p3.outline_line_color = None
p3.grid.visible = False
p3.yaxis.ticker = FixedTicker(ticks=[210])
style_axis(p3.yaxis)

page = column(p1, p2, p3, spacing=0, width=2100, height=1068,
              styles={"position": "fixed", "left": "0", "top": "0", "background": BG})
open("out.html", "w").write(file_html(page, INLINE))
